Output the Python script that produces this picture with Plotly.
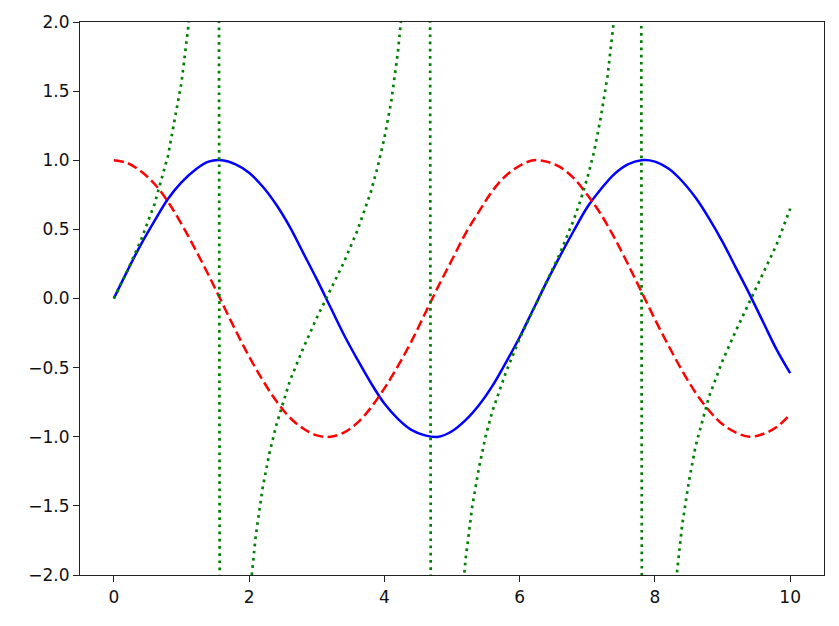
import plotly.graph_objects as go

# shared x grid for the sine and cosine curves
x_vals = [0.0, 0.2, 0.4, 0.6, 0.8, 1.0, 1.2, 1.4, 1.6, 1.8,
          2.0, 2.2, 2.4, 2.6, 2.8, 3.0, 3.2, 3.4, 3.6, 3.8,
          4.0, 4.2, 4.4, 4.6, 4.8, 5.0, 5.2, 5.4, 5.6, 5.8,
          6.0, 6.2, 6.4, 6.6, 6.8, 7.0, 7.2, 7.4, 7.6, 7.8,
          8.0, 8.2, 8.4, 8.6, 8.8, 9.0, 9.2, 9.4, 9.6, 9.8, 10.0]

sin_vals = [0.00, 0.20, 0.39, 0.56, 0.72, 0.84, 0.93, 0.99, 1.00, 0.97,
            0.91, 0.81, 0.68, 0.52, 0.33, 0.14, -0.06, -0.26, -0.44, -0.61,
            -0.76, -0.87, -0.95, -0.99, -1.00, -0.96, -0.88, -0.77, -0.63, -0.46,
            -0.28, -0.08, 0.12, 0.31, 0.49, 0.66, 0.79, 0.90, 0.97, 1.00,
            0.99, 0.94, 0.85, 0.73, 0.58, 0.41, 0.22, 0.03, -0.17, -0.37, -0.54]

cos_vals = [1.00, 0.98, 0.92, 0.83, 0.70, 0.54, 0.36, 0.17, -0.03, -0.23,
            -0.42, -0.59, -0.74, -0.86, -0.94, -0.99, -1.00, -0.97, -0.90, -0.79,
            -0.65, -0.49, -0.31, -0.11, 0.09, 0.28, 0.47, 0.63, 0.78, 0.89,
            0.96, 1.00, 0.99, 0.95, 0.87, 0.75, 0.61, 0.44, 0.25, 0.05,
            -0.15, -0.34, -0.52, -0.68, -0.81, -0.91, -0.97, -1.00, -0.98, -0.93, -0.84]

# tangent has its own x points, denser around the jumps
tan_x = [0.0, 0.2, 0.4, 0.6, 0.8, 1.0, 1.1, 1.2, 1.3, 1.4, 1.515,
         1.616, 1.8, 1.9, 2.0, 2.1, 2.2, 2.3, 2.4, 2.6, 2.8, 3.0, 3.2, 3.4, 3.6, 3.8,
         3.9, 4.0, 4.1, 4.2, 4.3, 4.4, 4.5, 4.646,
         4.747, 4.9, 5.0, 5.1, 5.2, 5.3, 5.4, 5.5, 5.6, 5.8, 6.0, 6.2, 6.4, 6.6, 6.8,
         6.9, 7.0, 7.1, 7.2, 7.3, 7.4, 7.5, 7.6, 7.778,
         7.879, 8.0, 8.1, 8.2, 8.3, 8.4, 8.5, 8.6, 8.8, 9.0, 9.2, 9.4, 9.6, 9.8, 10.0]
tan_vals = [0.00, 0.20, 0.42, 0.68, 1.03, 1.56, 1.96, 2.57, 3.60, 5.80, 17.6,
            -22.1, -4.29, -2.93, -2.19, -1.71, -1.37, -1.12, -0.92, -0.60, -0.36, -0.14, 0.06, 0.26, 0.49, 0.77,
            0.95, 1.16, 1.42, 1.78, 2.28, 3.10, 4.64, 15.1,
            -28.6, -5.25, -3.38, -2.44, -1.89, -1.50, -1.22, -0.99, -0.81, -0.53, -0.29, -0.08, 0.12, 0.33, 0.57,
            0.71, 0.87, 1.06, 1.31, 1.61, 2.04, 2.67, 3.86, 12.9,
            -40.0, -6.78, -3.99, -2.77, -2.10, -1.65, -1.33, -1.07, -0.71, -0.45, -0.23, -0.02, 0.18, 0.39, 0.65]

x_ticks = [0, 2, 4, 6, 8, 10]
y_ticks = [-2.0, -1.5, -1.0, -0.5, 0.0, 0.5, 1.0, 1.5, 2.0]

fig = go.Figure()
fig.add_trace(go.Scatter(x=x_vals, y=sin_vals, mode="lines",
                         line=dict(color="#0000ff", width=2.5, shape="spline")))
fig.add_trace(go.Scatter(x=x_vals, y=cos_vals, mode="lines",
                         line=dict(color="#ff0000", width=2.5, dash="10px,4.5px", shape="spline")))
fig.add_trace(go.Scatter(x=tan_x, y=tan_vals, mode="lines",
                         line=dict(color="#008000", width=2.7, dash="2.7px,4.5px")))

axis_style = dict(
    showgrid=False, zeroline=False, automargin=False,
    showline=True, linecolor="#222222", linewidth=1.2, mirror=True,
    ticks="outside", ticklen=6, tickwidth=1.2, tickcolor="#222222",
    tickfont=dict(family="DejaVu Sans", size=17, color="#111111"),
)

fig.update_xaxes(range=[-0.5, 10.5], tickvals=x_ticks, **axis_style)
fig.update_yaxes(range=[-2, 2], tickvals=y_ticks, tickformat=".1f", **axis_style)

# page body adds 8px, margins compensate for it
fig.update_layout(
    width=839, height=626,
    margin=dict(l=72, r=23, t=14, b=59),
    plot_bgcolor="white", paper_bgcolor="white",
    showlegend=False,
)

fig.write_html("out.html")
